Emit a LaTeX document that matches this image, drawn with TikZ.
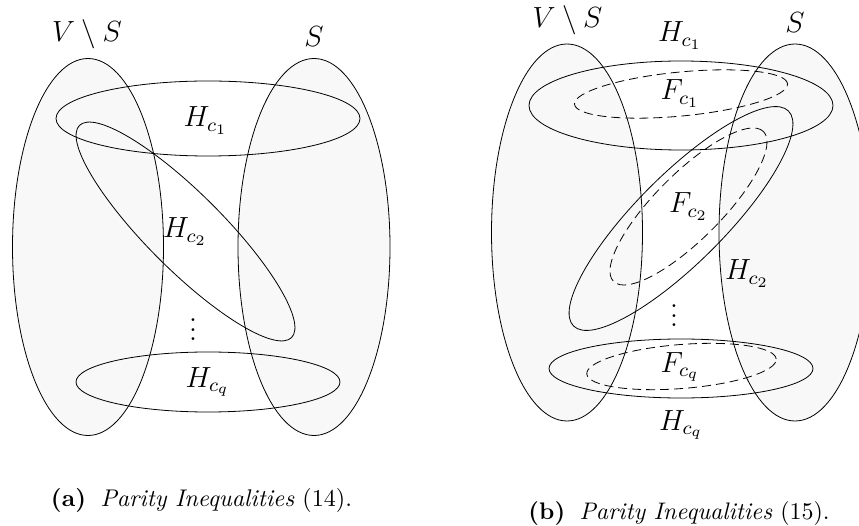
\RequirePackage{fix-cm}
\documentclass[tikz,border=0pt]{standalone}
\usetikzlibrary{shapes.geometric}
\definecolor{setgray}{RGB}{248,248,248}
\newcommand{\lbl}[1]{\scalebox{2.43}{\fontsize{12}{14}\selectfont$#1$}}
\newcommand{\captxt}[1]{\resizebox{301pt}{!}{\fontsize{10}{12}\selectfont #1}}
\begin{document}
\begin{tikzpicture}[x=1pt,y=-1pt,
  bigset/.style={ellipse, draw, fill=setgray, line width=0.8pt, inner sep=0pt},
  hset/.style={ellipse, draw, line width=0.8pt, inner sep=0pt},
  fset/.style={ellipse, draw, dash pattern=on 9pt off 5pt, line width=0.8pt, inner sep=0pt},
  lab/.style={inner sep=0pt, anchor=base},
  capt/.style={inner sep=0pt, anchor=base}]
\useasboundingbox (0,0) rectangle (859,526);
\clip (0,0) rectangle (859,526);
% ---------- panel (a)
\node[bigset, minimum width=151pt, minimum height=377pt] (vsa) at (88,247) {};
\node[bigset, minimum width=152pt, minimum height=377pt] (sa) at (314,247) {};
\node[hset, minimum width=304pt, minimum height=75pt] (h1a) at (208,118.5) {};
\node[hset, minimum width=300pt, minimum height=76pt, rotate=-45] (h2a) at (185.5,231.5) {};
\node[hset, minimum width=264pt, minimum height=60pt] (hqa) at (208,382) {};
\node[lab] (lvsa) at (87,42) {\lbl{V\setminus S}};
\node[lab] (lsa) at (314,47) {\lbl{S}};
\node[lab] (lh1a) at (205.5,127) {\lbl{H_{c_1}}};
\node[lab] (lh2a) at (185,238) {\lbl{H_{c_2}}};
\node[lab] (ldotsa) at (193,341) {\lbl{\vdots}};
\node[lab] (lhqa) at (207.5,387) {\lbl{H_{c_q}}};
\node[capt] (capa) at (201.5,506) {\captxt{\textbf{(a)}\hspace{0.6em}\textit{Parity Inequalities} (14).}};
% ---------- panel (b)
\node[bigset, minimum width=151pt, minimum height=377pt] (vsb) at (567,232.5) {};
\node[bigset, minimum width=152pt, minimum height=377pt] (sb) at (795,232.5) {};
\node[hset, minimum width=304pt, minimum height=89pt] (h1b) at (681,105.5) {};
\node[fset, minimum width=214pt, minimum height=44pt, rotate=5.5] (f1b) at (681,94) {};
\node[hset, minimum width=304pt, minimum height=88pt, rotate=45] (h2b) at (681,218.5) {};
\node[fset, minimum width=212pt, minimum height=66pt, rotate=45] (f2b) at (688.5,206.5) {};
\node[hset, minimum width=264pt, minimum height=59pt] (hqb) at (681,368.5) {};
\node[fset, minimum width=190pt, minimum height=44pt, rotate=4.5] (fqb) at (681.5,366.5) {};
\node[lab] (lvsb) at (567.5,28) {\lbl{V\setminus S}};
\node[lab] (lsb) at (795,33) {\lbl{S}};
\node[lab] (lh1b) at (680,42) {\lbl{H_{c_1}}};
\node[lab] (lf1b) at (680,100) {\lbl{F_{c_1}}};
\node[lab] (lf2b) at (688.5,213) {\lbl{F_{c_2}}};
\node[lab] (lh2b) at (747,280) {\lbl{H_{c_2}}};
\node[lab] (ldotsb) at (674,327) {\lbl{\vdots}};
\node[lab] (lfqb) at (680,372) {\lbl{F_{c_q}}};
\node[lab] (lhqb) at (681,430) {\lbl{H_{c_q}}};
\node[capt] (capb) at (679,519) {\captxt{\textbf{(b)}\hspace{0.6em}\textit{Parity Inequalities} (15).}};
\end{tikzpicture}
\end{document}
